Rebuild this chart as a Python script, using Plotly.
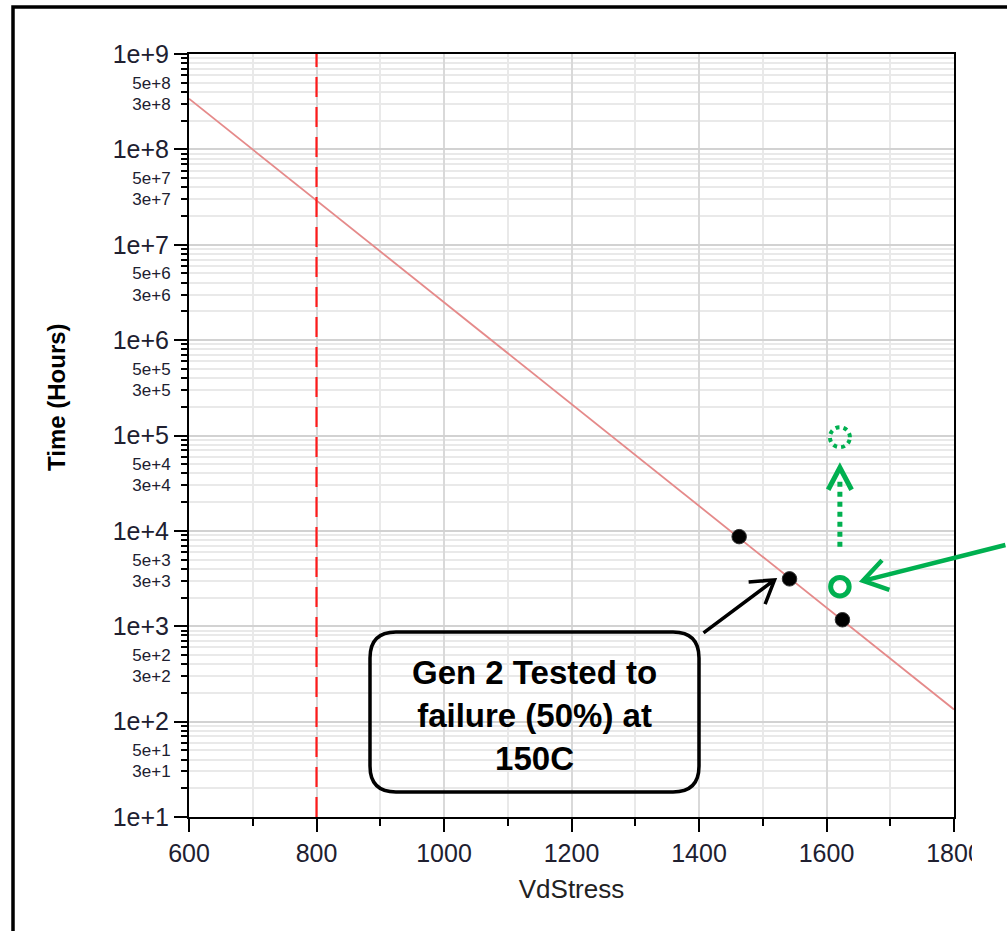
import math
import plotly.graph_objects as go

# ---------------- data ----------------
fit_x = [600, 1800]
fit_y = [3.4e8, 134]

test_x = [1463, 1542, 1625]
test_y = [8700, 3140, 1170]

limit_x = [800, 800]
limit_y = [10, 1e9]

green_x = [1621]
green_y = [2600]
proj_y = [96000]

x_major = [600, 800, 1000, 1200, 1400, 1600, 1800]
x_minor = [700, 900, 1100, 1300, 1500, 1700]
decades = list(range(1, 10))
y_major = [10 ** d for d in decades]
y_major_text = ["1e+%d" % d for d in decades]
y_minor = [m * 10 ** d for d in decades[:-1] for m in range(2, 10)]
y_small = [m * 10 ** d for d in decades[:-1] for m in (3, 5)]
y_small_text = ["%de+%d" % (m, d) for d in decades[:-1] for m in (3, 5)]

box_text = "Gen 2 Tested to<br>failure (50%) at<br>150C"
y_title = "Time (Hours)"
x_title = "VdStress"

# ---------------- layout geometry ----------------
W, H = 1007, 931
L, R, T, B = 189, 53, 54, 114
PW, PH = W - L - R, H - T - B

def px(xp):
    return (xp - L) / PW

def py(yp):
    return (H - B - yp) / PH

GREEN = "#00b050"
FONT = "Liberation Sans, Arial, sans-serif"
TXT = "#202030"

fig = go.Figure()

fig.add_trace(go.Scatter(x=fit_x, y=fit_y, mode="lines",
                         line=dict(color="#e58a8a", width=1.8),
                         hoverinfo="skip", showlegend=False))
fig.add_trace(go.Scatter(x=limit_x, y=limit_y, mode="lines",
                         line=dict(color="#ff1a1a", width=2.2, dash="20px,10px"),
                         hoverinfo="skip", showlegend=False))
fig.add_trace(go.Scatter(x=test_x, y=test_y, mode="markers",
                         marker=dict(color="black", size=14.5,
                                     line=dict(color="#333", width=1)),
                         showlegend=False))
fig.add_trace(go.Scatter(x=green_x, y=green_y, mode="markers",
                         marker=dict(symbol="circle-open", color=GREEN, size=18.5,
                                     line=dict(color=GREEN, width=5)),
                         showlegend=False))
# invisible trace on secondary axis for the small labels
fig.add_trace(go.Scatter(x=fit_x, y=fit_y, yaxis="y2", mode="lines",
                         line=dict(width=0), opacity=0, hoverinfo="skip",
                         showlegend=False))

fig.update_layout(
    width=W, height=H, autosize=False,
    margin=dict(l=L, r=R, t=T, b=B, pad=0),
    paper_bgcolor="white", plot_bgcolor="white",
    font=dict(family=FONT, color=TXT),
    xaxis=dict(
        range=[600, 1800], tickvals=x_major, ticktext=[str(v) for v in x_major],
        ticks="outside", ticklen=13, tickwidth=2, tickcolor="black",
        tickfont=dict(size=25, color=TXT),
        showline=True, linecolor="black", linewidth=2, mirror=True,
        showgrid=True, gridcolor="#d9d9d9", gridwidth=1.5, zeroline=False,
        minor=dict(tickvals=x_minor, ticks="outside", ticklen=7, tickwidth=2,
                   tickcolor="black", showgrid=True, gridcolor="#e9e9e9", gridwidth=1.5),
        title=dict(text=x_title, font=dict(size=26, color="#222"), standoff=14),
    ),
    yaxis=dict(
        type="log", range=[1, 9], tickvals=y_major, ticktext=y_major_text,
        ticks="outside", ticklen=13, tickwidth=2, tickcolor="black",
        tickfont=dict(size=25, color=TXT),
        showline=True, linecolor="black", linewidth=2, mirror=True,
        showgrid=True, gridcolor="#d2d2d2", gridwidth=1.5, zeroline=False,
        minor=dict(tickvals=y_minor, ticks="outside", ticklen=6, tickwidth=2,
                   tickcolor="black", showgrid=True, gridcolor="#e9e9e9", gridwidth=1.5),
    ),
    yaxis2=dict(
        type="log", range=[1, 9], overlaying="y", side="left",
        tickvals=y_small, ticktext=y_small_text,
        ticks="outside", ticklen=6, tickwidth=2, tickcolor="black",
        ticklabelstandoff=8,
        tickfont=dict(size=17, color=TXT),
        showline=False, showgrid=False, zeroline=False,
    ),
)

# ---------------- decorations ----------------
shapes = []

# outer frame of the slide
shapes.append(dict(type="rect", xref="paper", yref="paper",
                   x0=px(13), x1=px(1020), y0=py(945), y1=py(7),
                   line=dict(color="black", width=3.5), layer="above"))
# cropped right edge over the "1800" label
shapes.append(dict(type="rect", xref="paper", yref="paper",
                   x0=px(972), x1=px(1010), y0=py(878), y1=py(826),
                   fillcolor="white", line=dict(width=0), layer="above"))

# rounded callout box
bx0, bx1, by0, by1 = px(370), px(699), py(792), py(632)
rx, ry = 26 / PW, 26 / PH
box_path = (f"M {bx0+rx},{by1} L {bx1-rx},{by1} Q {bx1},{by1} {bx1},{by1-ry} "
            f"L {bx1},{by0+ry} Q {bx1},{by0} {bx1-rx},{by0} L {bx0+rx},{by0} "
            f"Q {bx0},{by0} {bx0},{by0+ry} L {bx0},{by1-ry} Q {bx0},{by1} {bx0+rx},{by1} Z")
shapes.append(dict(type="path", xref="paper", yref="paper", path=box_path,
                   line=dict(color="black", width=3.5), layer="above"))

def chevron(tip, start, arm=24, ang=32):
    dx, dy = tip[0] - start[0], tip[1] - start[1]
    n = math.hypot(dx, dy)
    ux, uy = dx / n, dy / n
    pts = []
    for s in (1, -1):
        a = math.radians(ang) * s
        bx = -(ux * math.cos(a) - uy * math.sin(a))
        by = -(ux * math.sin(a) + uy * math.cos(a))
        pts.append((tip[0] + arm * bx, tip[1] + arm * by))
    return (f"M {pts[0][0]:.1f},{pts[0][1]:.1f} L {tip[0]:.1f},{tip[1]:.1f} "
            f"L {pts[1][0]:.1f},{pts[1][1]:.1f}")

def circle_path(r):
    k = 0.5523 * r
    return (f"M {r},0 C {r},{k} {k},{r} 0,{r} C {-k},{r} {-r},{k} {-r},0 "
            f"C {-r},{-k} {-k},{-r} 0,{-r} C {k},{-r} {r},{-k} {r},0 Z")

# black arrow from callout to second test point (pixel offsets, y up)
b_start, b_tip = (-86, -54), (-15, -1)
shapes.append(dict(type="path", xref="x", yref="y", xsizemode="pixel", ysizemode="pixel",
                   xanchor=test_x[1], yanchor=test_y[1],
                   path=f"M {b_start[0]},{b_start[1]} L {b_tip[0]},{b_tip[1]} " + chevron(b_tip, b_start, arm=26),
                   line=dict(color="black", width=3.5)))

# green dotted arrow upwards
shapes.append(dict(type="path", xref="x", yref="y", xsizemode="pixel", ysizemode="pixel",
                   xanchor=green_x[0], yanchor=green_y[0],
                   path="M 0,40 L 0,110", line=dict(color=GREEN, width=5, dash="dot")))
shapes.append(dict(type="path", xref="x", yref="y", xsizemode="pixel", ysizemode="pixel",
                   xanchor=green_x[0], yanchor=green_y[0],
                   path=chevron((0, 119), (0, 40), arm=25, ang=28),
                   line=dict(color=GREEN, width=5)))
# projected (dashed) green circle
shapes.append(dict(type="path", xref="x", yref="y", xsizemode="pixel", ysizemode="pixel",
                   xanchor=green_x[0], yanchor=proj_y[0], path=circle_path(10),
                   line=dict(color=GREEN, width=4, dash="dot")))
# green long arrow head
g_start, g_tip = (167, 42), (23, 6)
shapes.append(dict(type="path", xref="x", yref="y", xsizemode="pixel", ysizemode="pixel",
                   xanchor=green_x[0], yanchor=green_y[0],
                   path=chevron(g_tip, g_start, arm=28, ang=33),
                   line=dict(color=GREEN, width=4.5)))

fig.update_layout(shapes=shapes)

annotations = [
    dict(xref="paper", yref="paper", x=px(534.5), y=py(715), text="<b>" + box_text + "</b>",
         showarrow=False, font=dict(size=33, color="black", family=FONT), align="center",
         xanchor="center", yanchor="middle"),
    dict(xref="paper", yref="paper", x=px(56), y=py(397), text="<b>" + y_title + "</b>",
         showarrow=False, textangle=-90, font=dict(size=24, color="black", family=FONT),
         xanchor="center", yanchor="middle"),
    dict(xref="x", yref="y", x=green_x[0], y=math.log10(green_y[0]), text="",
         showarrow=True, arrowhead=0, arrowwidth=4.5, arrowcolor=GREEN,
         ax=g_start[0], ay=-g_start[1], axref="pixel", ayref="pixel",
         standoff=math.hypot(*g_tip)),
]
fig.update_layout(annotations=annotations)

fig.write_html("out.html")
